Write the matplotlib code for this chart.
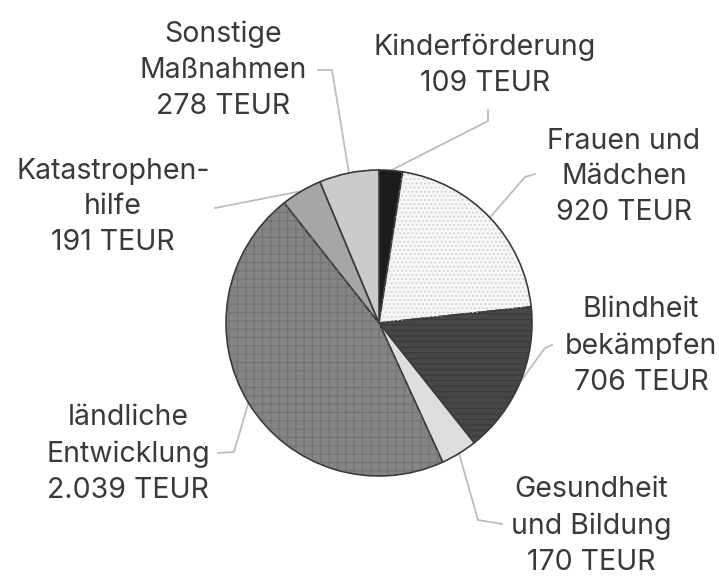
import numpy as np
import matplotlib
matplotlib.use("Agg")
import matplotlib.pyplot as plt

# data (TEUR), clockwise from 12 o'clock
labels = ["Kinderförderung\n109 TEUR",
          "Frauen und\nMädchen\n920 TEUR",
          "Blindheit\nbekämpfen\n706 TEUR",
          "Gesundheit\nund Bildung\n170 TEUR",
          "ländliche\nEntwicklung\n2.039 TEUR",
          "Katastrophen-\nhilfe\n191 TEUR",
          "Sonstige\nMaßnahmen\n278 TEUR"]
values = [109, 920, 706, 170, 2039, 191, 278]
colors = ["#1c1c1c", "#f7f7f7", "#474747", "#dedede", "#858585", "#a6a6a6", "#cbcbcb"]
hatches = [None, "....", "---", None, "++", None, None]
hatch_cols = ["#1c1c1c", "#d0d0d0", "#3a3a3a", "#dedede", "#727272", "#a6a6a6", "#cbcbcb"]

W, H = 719, 576
cx, cy, R = 379, H - 323, 153

# label placement (pixel coords, y from top) and leader path from text to pie
text_pos = [(485, 65), (624, 177), (641, 346), (591, 526), (128, 454), (113, 207), (223, 70)]
leader_pts = [[(488, 110), (488, 121)],
              [(535, 174), (525, 177)],
              [(552, 345), (545, 348)],
              [(502, 524), (478, 520)],
              [(218, 453), (234, 452)],
              [(215, 208)],
              [(318, 70), (332, 70)]]

plt.rcParams["font.family"] = ["Inter", "DejaVu Sans"]
plt.rcParams["hatch.linewidth"] = 0.8

fig = plt.figure(figsize=(W / 100, H / 100), dpi=100)
ax = fig.add_axes([0, 0, 1, 1])

wedges, _ = ax.pie(values, colors=colors, startangle=90, counterclock=False,
                   center=(cx, cy), radius=R, frame=True,
                   wedgeprops=dict(edgecolor="#3a3a3a", linewidth=1.2))
over, _ = ax.pie(values, colors=["none"] * len(values), startangle=90, counterclock=False,
                 center=(cx, cy), radius=R - 1, frame=True,
                 wedgeprops=dict(linewidth=0))
for w, h, hc in zip(over, hatches, hatch_cols):
    if h:
        w.set_hatch(h)
        w.set_edgecolor(hc)
    else:
        w.set_edgecolor("none")
ax.set_xlim(0, W)
ax.set_ylim(0, H)
ax.set_aspect("equal")
ax.axis("off")

for w, lab, (tx, ty), pts in zip(wedges, labels, text_pos, leader_pts):
    mid = np.deg2rad((w.theta1 + w.theta2) / 2)
    px, py = cx + R * np.cos(mid), cy + R * np.sin(mid)
    xs = [p[0] for p in pts] + [px]
    ys = [H - p[1] for p in pts] + [py]
    ax.plot(xs, ys, color="#bdbdbd", lw=1.3, zorder=0)
    ax.text(tx, H - ty, lab, ha="center", va="center", fontsize=20.5,
            color="#3a3a3a", linespacing=1.42)

fig.savefig("out.png", dpi=100, facecolor="white")
